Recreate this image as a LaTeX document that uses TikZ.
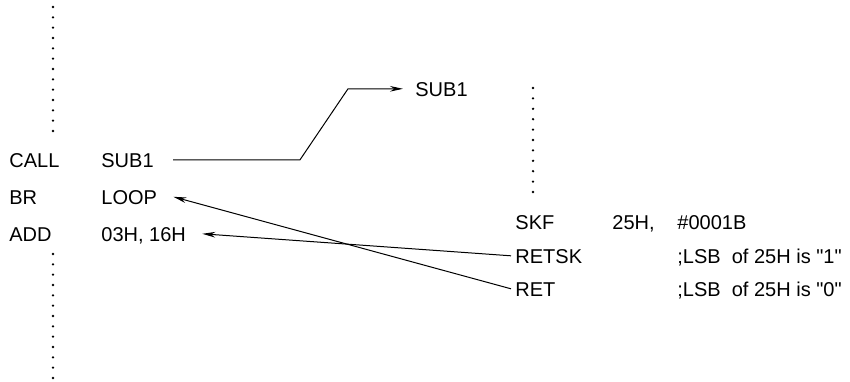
\documentclass[tikz,border=0pt]{standalone}
\usepackage{fontspec}
\setsansfont{Liberation Sans}[Ligatures=TeXOff]
\usetikzlibrary{arrows.meta}

\begin{document}
\begin{tikzpicture}[
  x=0.5pt, y=-0.5pt,
  font=\sffamily\fontsize{10}{12}\selectfont,
  asm/.style  = {anchor=base west, inner sep=0pt,
                 text height=7.2pt, text depth=0pt},
  jump/.style = {-{Stealth[length=6.5pt, width=2.8pt]}, line width=0.5pt}
]
\useasboundingbox (0,0) rectangle (850,381);

% ------------------------------------------------------------ main routine --
\node[asm] (call)    at (9,167)   {CALL};
\node[asm] (callarg) at (101,167) {SUB1};
\node[asm] (br)      at (9,204)   {BR};
\node[asm] (brarg)   at (101,204) {LOOP};
\node[asm] (add)     at (9,241)   {ADD};
\node[asm] (addarg)  at (101,241) {03H, 16H};

% -------------------------------------------------------------- subroutine --
\node[asm] (sub)     at (415,96)  {SUB1};
\node[asm] (skf)     at (515,229) {SKF};
\node[asm] (skfa)    at (612,229) {25H,};
\node[asm] (skfb)    at (677,229) {\#0001B};
\node[asm] (retsk)   at (515,263) {RETSK};
\node[asm] (retskc)  at (677,263) {;LSB\ \ of 25H is "1"};
\node[asm] (ret)     at (515,296) {RET};
\node[asm] (retc)    at (677,296) {;LSB\ \ of 25H is "0"};

% ------------------------------------------------------------ omitted code --
\foreach \k in {0,...,12} {
  \fill (53,7+10.33*\k)   circle (0.65pt);
  \fill (53,254+10.33*\k) circle (0.65pt);
}
\foreach \k in {0,...,10}
  \fill (533,88+10.4*\k) circle (0.65pt);

% ------------------------------------------------------------------- jumps --
\coordinate (knee1) at (300,0);
\coordinate (knee2) at (348,0);
\draw[jump] ([xshift=9.5pt]callarg.east) -- (callarg.east -| knee1)
  -- (knee2 |- sub.west) -- ([xshift=-6pt]sub.west);
\draw[jump] ([xshift=-2pt]retsk.west) -- ([xshift=8pt]addarg.east);
\draw[jump] ([xshift=-2pt]ret.west)   -- ([xshift=8pt]brarg.east);

\end{tikzpicture}
\end{document}
